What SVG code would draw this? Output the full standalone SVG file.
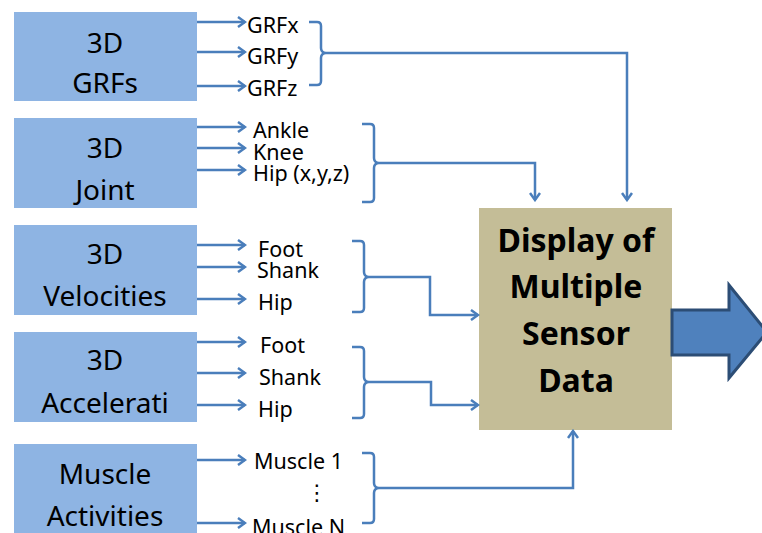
<svg xmlns="http://www.w3.org/2000/svg" width="762" height="533" viewBox="0 0 762 533">
<defs>
<marker id="ah" markerWidth="12" markerHeight="12" refX="10" refY="6" orient="auto" markerUnits="userSpaceOnUse">
<path d="M3,1 L10,6 L3,11" fill="none" stroke="#4A7EBB" stroke-width="2.5"/>
</marker>
<style>
.src{fill:#8EB4E3}
.st{font-family:"Noto Sans","DejaVu Sans",sans-serif;font-size:28px;fill:#000;text-anchor:middle}
.lb{font-family:"Noto Sans","DejaVu Sans",sans-serif;font-size:21.5px;fill:#000}
.ln{fill:none;stroke:#4A7EBB;stroke-width:2.5}
.ar{fill:none;stroke:#4A7EBB;stroke-width:2.5;marker-end:url(#ah)}
.bt{font-family:"Noto Sans","DejaVu Sans",sans-serif;font-size:32px;font-weight:bold;fill:#000;text-anchor:middle}
</style>
</defs>
<rect width="762" height="533" fill="#fff"/>
<g id="grfs">
<rect class="src" x="14" y="12" width="183" height="89"/>
<text class="st" x="105" y="53">3D</text>
<text class="st" x="105" y="93">GRFs</text>
</g>
<g id="joint">
<rect class="src" x="14" y="118" width="183" height="90"/>
<text class="st" x="105" y="158">3D</text>
<text class="st" x="105" y="200">Joint</text>
</g>
<g id="velocities">
<rect class="src" x="14" y="225" width="183" height="90"/>
<text class="st" x="105" y="264">3D</text>
<text class="st" x="105" y="306">Velocities</text>
</g>
<g id="accelerations">
<rect class="src" x="14" y="332" width="183" height="90"/>
<text class="st" x="105" y="370">3D</text>
<text class="st" x="105" y="413">Accelerati</text>
</g>
<g id="muscle">
<rect class="src" x="14" y="444" width="183" height="100"/>
<text class="st" x="105" y="484">Muscle</text>
<text class="st" x="105" y="526">Activities</text>
</g>
<g id="display">
<rect x="479" y="208" width="193" height="222" fill="#C4BD97"/>
<text class="bt" x="576" y="252">Display of</text>
<text class="bt" x="576" y="298">Multiple</text>
<text class="bt" x="576" y="345">Sensor</text>
<text class="bt" x="576" y="392">Data</text>
</g>
<g id="output-arrow">
<path d="M672,310 H729 V285 L767,332 L729,378 V355 H672 Z" fill="#4F81BD" stroke="#2C4D75" stroke-width="3"/>
</g>
<g id="labels">
<text class="lb" x="247" y="33">GRFx</text>
<text class="lb" x="247" y="64">GRFy</text>
<text class="lb" x="247" y="96">GRFz</text>
<text class="lb" x="253" y="138">Ankle</text>
<text class="lb" x="253" y="160">Knee</text>
<text class="lb" x="253" y="181">Hip (x,y,z)</text>
<text class="lb" x="258" y="257">Foot</text>
<text class="lb" x="257" y="278">Shank</text>
<text class="lb" x="258" y="310">Hip</text>
<text class="lb" x="260" y="353">Foot</text>
<text class="lb" x="259" y="385">Shank</text>
<text class="lb" x="258" y="417">Hip</text>
<text class="lb" x="254" y="469">Muscle 1</text>
<text class="lb" x="306" y="500">⋮</text>
<text class="lb" x="252" y="535">Muscle N</text>
</g>
<g id="connectors">
<line class="ar" x1="197" y1="22" x2="245" y2="22"/>
<line class="ar" x1="197" y1="52" x2="245" y2="52"/>
<line class="ar" x1="197" y1="86" x2="245" y2="86"/>
<line class="ar" x1="197" y1="127" x2="245" y2="127"/>
<line class="ar" x1="197" y1="148" x2="245" y2="148"/>
<line class="ar" x1="197" y1="170" x2="245" y2="170"/>
<line class="ar" x1="197" y1="245" x2="245" y2="245"/>
<line class="ar" x1="197" y1="267" x2="245" y2="267"/>
<line class="ar" x1="197" y1="299" x2="245" y2="299"/>
<line class="ar" x1="197" y1="342" x2="245" y2="342"/>
<line class="ar" x1="197" y1="373" x2="245" y2="373"/>
<line class="ar" x1="197" y1="405" x2="245" y2="405"/>
<line class="ar" x1="197" y1="460" x2="245" y2="460"/>
<line class="ar" x1="197" y1="523" x2="245" y2="523"/>
<path class="ln" d="M309,22 h8 q4,0 4,4 v22 q0,4 4,5 q-4,1 -4,5 v23 q0,4 -4,4 h-8"/>
<path class="ar" d="M325,53 H627 V200"/>
<path class="ln" d="M362,124 h8 q4,0 4,4 v30 q0,4 4,5 q-4,1 -4,5 v30 q0,4 -4,4 h-8"/>
<path class="ar" d="M378,163 H535 V200"/>
<path class="ln" d="M352,241 h8 q4,0 4,4 v27 q0,4 4,5 q-4,1 -4,5 v26 q0,4 -4,4 h-8"/>
<path class="ar" d="M368,277 H430 V315 H478"/>
<path class="ln" d="M352,347 h8 q4,0 4,4 v26 q0,4 4,5 q-4,1 -4,5 v27 q0,4 -4,4 h-8"/>
<path class="ar" d="M368,382 H431 V405 H478"/>
<path class="ln" d="M362,453 h8 q4,0 4,4 v26 q0,4 4,5 q-4,1 -4,5 v26 q0,4 -4,4 h-8"/>
<path class="ar" d="M378,488 H573 V431"/>
</g>
</svg>
